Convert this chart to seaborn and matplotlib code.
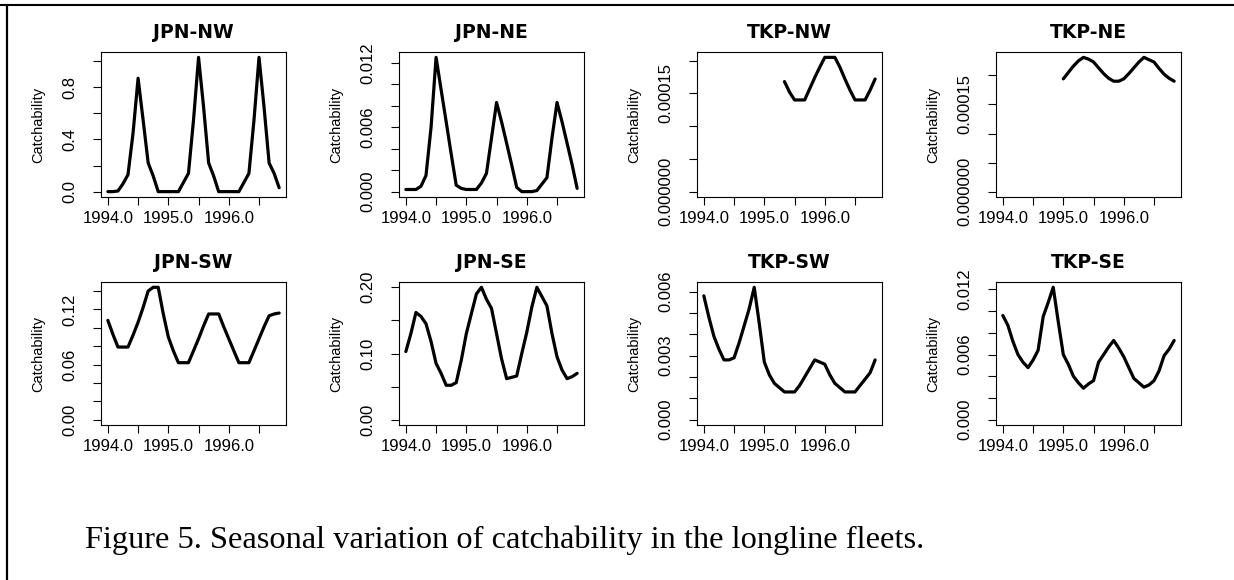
import numpy as np
import pandas as pd
import matplotlib
matplotlib.use("Agg")
import matplotlib.pyplot as plt
import seaborn as sns
from matplotlib.lines import Line2D

# ---------------- data ----------------
time = [1994.000, 1994.083, 1994.167, 1994.250, 1994.333, 1994.417,
        1994.500, 1994.583, 1994.667, 1994.750, 1994.833, 1994.917,
        1995.000, 1995.083, 1995.167, 1995.250, 1995.333, 1995.417,
        1995.500, 1995.583, 1995.667, 1995.750, 1995.833, 1995.917,
        1996.000, 1996.083, 1996.167, 1996.250, 1996.333, 1996.417,
        1996.500, 1996.583, 1996.667, 1996.750, 1996.833]

NA = np.nan

jpn_nw = [0.0, 0.0, 0.005, 0.06, 0.13, 0.45, 0.87, 0.55, 0.22, 0.12, 0.0, 0.0,
          0.0, 0.0, 0.0, 0.07, 0.14, 0.55, 1.03, 0.65, 0.22, 0.12, 0.0, 0.0,
          0.0, 0.0, 0.0, 0.07, 0.14, 0.55, 1.03, 0.65, 0.22, 0.14, 0.03]

jpn_ne = [0.0002, 0.0002, 0.0002, 0.0005, 0.0015, 0.006, 0.0125, 0.0095, 0.0065,
          0.0035, 0.0006, 0.0003, 0.0002, 0.0002, 0.0002, 0.0008, 0.0017, 0.005,
          0.0083, 0.0065, 0.0045, 0.0025, 0.0004, 0.0, 0.0, 0.0, 0.0001, 0.0007,
          0.0013, 0.005, 0.0083, 0.0065, 0.0045, 0.0025, 0.0003]

tkp_nw = [NA, NA, NA, NA, NA, NA, NA, NA, NA, NA, NA, NA, NA, NA, NA, NA,
          0.000168, 0.000152, 0.000140, 0.000140, 0.000140, 0.000157, 0.000174,
          0.000190, 0.000205, 0.000205, 0.000205, 0.000190, 0.000172, 0.000155,
          0.000140, 0.000140, 0.000140, 0.000155, 0.000172]

tkp_ne = [NA, NA, NA, NA, NA, NA, NA, NA, NA, NA, NA, NA,
          0.000194, 0.000205, 0.000216, 0.000225, 0.000231, 0.000228, 0.000223,
          0.000213, 0.000203, 0.000195, 0.000190, 0.000190, 0.000194, 0.000203,
          0.000213, 0.000223, 0.000231, 0.000227, 0.000223, 0.000212, 0.000202,
          0.000195, 0.000190]

jpn_sw = [0.108, 0.093, 0.079, 0.079, 0.079, 0.092, 0.106, 0.122, 0.140, 0.144,
          0.144, 0.115, 0.090, 0.075, 0.062, 0.062, 0.062, 0.075, 0.088, 0.102,
          0.115, 0.115, 0.115, 0.101, 0.088, 0.075, 0.062, 0.062, 0.062, 0.075,
          0.088, 0.101, 0.113, 0.115, 0.116]

jpn_se = [0.103, 0.130, 0.162, 0.156, 0.145, 0.118, 0.085, 0.070, 0.052, 0.052,
          0.056, 0.090, 0.130, 0.160, 0.190, 0.200, 0.182, 0.168, 0.130, 0.092,
          0.062, 0.064, 0.066, 0.100, 0.132, 0.170, 0.200, 0.186, 0.172, 0.130,
          0.095, 0.075, 0.062, 0.065, 0.070]

tkp_sw = [0.0058, 0.0048, 0.0039, 0.0033, 0.0028, 0.0028, 0.0029, 0.0036, 0.0044,
          0.0052, 0.0062, 0.0045, 0.0027, 0.0021, 0.0017, 0.0015, 0.0013, 0.0013,
          0.0013, 0.0016, 0.0020, 0.0024, 0.0028, 0.0027, 0.0026, 0.0021, 0.0017,
          0.0015, 0.0013, 0.0013, 0.0013, 0.0016, 0.0019, 0.0022, 0.0028]

tkp_se = [0.0096, 0.0087, 0.0072, 0.0060, 0.0053, 0.0048, 0.0055, 0.0064, 0.0095,
          0.0108, 0.0122, 0.0090, 0.0060, 0.0051, 0.0040, 0.0034, 0.0029, 0.0033,
          0.0036, 0.0053, 0.0060, 0.0067, 0.0073, 0.0066, 0.0058, 0.0048, 0.0038,
          0.0034, 0.0030, 0.0032, 0.0036, 0.0045, 0.0059, 0.0065, 0.0073]

panel_names = ["JPN-NW", "JPN-NE", "TKP-NW", "TKP-NE",
               "JPN-SW", "JPN-SE", "TKP-SW", "TKP-SE"]
panel_series = [jpn_nw, jpn_ne, tkp_nw, tkp_ne, jpn_sw, jpn_se, tkp_sw, tkp_se]

x_ticks = [1994.0, 1994.5, 1995.0, 1995.5, 1996.0, 1996.5]
x_tick_labels = ["1994.0", "", "1995.0", "", "1996.0", ""]

y_ticks = [
    [0.0, 0.2, 0.4, 0.6, 0.8, 1.0],
    [0.0, 0.002, 0.004, 0.006, 0.008, 0.010, 0.012],
    [0.0, 0.00005, 0.0001, 0.00015, 0.0002],
    [0.0, 0.00005, 0.0001, 0.00015, 0.0002],
    [0.0, 0.02, 0.04, 0.06, 0.08, 0.10, 0.12, 0.14],
    [0.0, 0.05, 0.10, 0.15, 0.20],
    [0.0, 0.001, 0.002, 0.003, 0.004, 0.005, 0.006],
    [0.0, 0.002, 0.004, 0.006, 0.008, 0.010, 0.012],
]
y_tick_labels = [
    ["0.0", "", "0.4", "", "0.8", ""],
    ["0.000", "", "", "0.006", "", "", "0.012"],
    ["0.000000", "", "", "0.00015", ""],
    ["0.000000", "", "", "0.00015", ""],
    ["0.00", "", "", "0.06", "", "", "0.12", ""],
    ["0.00", "", "0.10", "", "0.20"],
    ["0.000", "", "", "0.003", "", "", "0.006"],
    ["0.000", "", "", "0.006", "", "", "0.012"],
]

y_label = "Catchability"
caption = "Figure 5. Seasonal variation of catchability in the longline fleets."

# ---------------- style ----------------
sns.set_theme(style="white")
plt.rcParams["font.family"] = ["Liberation Sans", "DejaVu Sans"]
plt.rcParams["axes.linewidth"] = 0.8
plt.rcParams["axes.edgecolor"] = "black"

W, H = 1234, 580
fig = plt.figure(figsize=(W / 100, H / 100), dpi=100)
fig.patch.set_facecolor("white")

lefts = [101, 399, 697, 996]
rows = [(52, 197), (282, 425)]
box_w = 185

x0, x1 = time[0], time[-1]
xr = x1 - x0

for k, (name, vals) in enumerate(zip(panel_names, panel_series)):
    r, c = divmod(k, 4)
    top, bot = rows[r]
    ax = fig.add_axes([lefts[c] / W, 1 - bot / H, box_w / W, (bot - top) / H])
    df = pd.DataFrame({"time": time, "q": vals}).dropna()
    sns.lineplot(data=df, x="time", y="q", ax=ax, color="black",
                 linewidth=2.3, estimator=None, sort=False)
    ymax = np.nanmax(vals)
    ax.set_xlim(x0 - 0.04 * xr, x1 + 0.04 * xr)
    ax.set_ylim(-0.04 * ymax, 1.04 * ymax)
    ax.set_xticks(x_ticks)
    ax.set_xticklabels(x_tick_labels)
    ax.set_yticks(y_ticks[k])
    ax.set_yticklabels(y_tick_labels[k], rotation=90, va="center")
    ax.tick_params(axis="both", which="both", direction="out", length=5.5,
                   width=0.8, color="black", labelsize=12, labelcolor="black")
    ax.tick_params(axis="x", pad=4.5, bottom=True)
    ax.tick_params(axis="y", pad=11.5, left=True)
    ax.set_xlabel("")
    ax.set_ylabel(y_label, fontsize=10.5, color="black")
    ax.yaxis.set_label_coords(-56 / box_w, 0.5)
    ax.set_title(name, fontsize=13.5, fontweight="bold", color="black",
                 pad=10, family=["DejaVu Sans"])
    for s in ax.spines.values():
        s.set_visible(True)
        s.set_color("black")
        s.set_linewidth(0.8)

# page border (top and left edges)
fig.add_artist(Line2D([0, 1], [1 - 5 / H, 1 - 5 / H], transform=fig.transFigure,
                      color="black", linewidth=1.5))
fig.add_artist(Line2D([6.5 / W, 6.5 / W], [0, 1 - 5 / H], transform=fig.transFigure,
                      color="black", linewidth=1.6))

fig.text(85 / W, 1 - 548 / H, caption, family=["Liberation Serif"],
         fontsize=23.3, color="black", ha="left", va="baseline")

fig.savefig("out.png", dpi=100, facecolor="white")
